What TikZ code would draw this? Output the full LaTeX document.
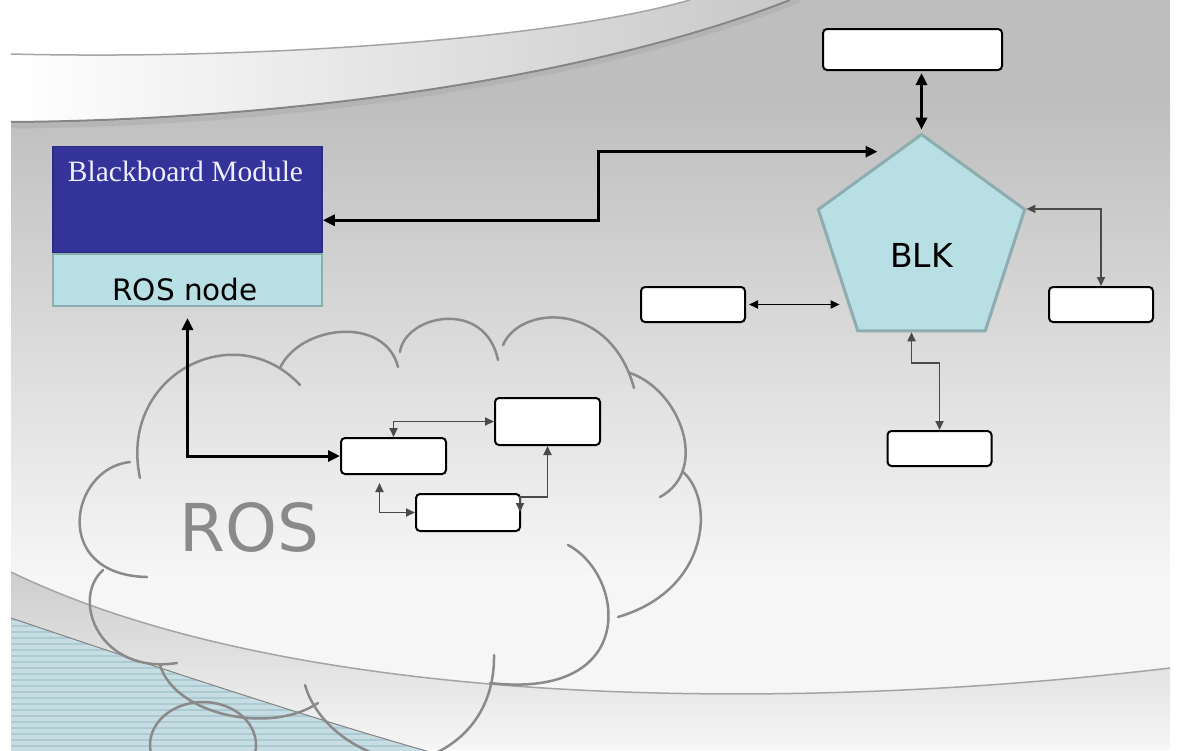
\documentclass[tikz,border=0pt]{standalone}
\usepackage{fontspec}
\newfontfamily\dejavu{DejaVu Sans}
\newfontfamily\timesfont{Liberation Serif}
\usetikzlibrary{shapes.geometric,arrows.meta,calc}

\definecolor{bbblue}{HTML}{333399}
\definecolor{bbedge}{HTML}{2B2B80}
\definecolor{bbtext}{HTML}{EEEEFF}
\definecolor{rosteal}{HTML}{B8DFE3}
\definecolor{rosedge}{HTML}{8DADB0}
\definecolor{cloudgray}{HTML}{8A8A8A}
\definecolor{wiregray}{HTML}{4A4A4A}
\definecolor{bgtop}{HTML}{BEBEBE}
\definecolor{bgbottom}{HTML}{F6F6F6}
\definecolor{bandgray}{HTML}{CDCDCD}
\definecolor{edgegray}{HTML}{A4A4A4}
\definecolor{stripeblue}{HTML}{C6DDE3}
\definecolor{stripeline}{HTML}{ADC9D1}

\begin{document}
\begin{tikzpicture}[x=1pt, y=-1pt,
  whitebox/.style={draw=black, line width=2pt, fill=white, rounded corners=4pt,
    inner sep=0pt, minimum width=104pt, minimum height=35pt},
  bbbox/.style={draw=bbedge, line width=1.5pt, fill=bbblue, inner sep=0pt,
    minimum width=269pt, minimum height=106pt},
  rosbox/.style={draw=rosedge, line width=2pt, fill=rosteal, inner sep=0pt,
    minimum width=269pt, minimum height=52pt},
  blkshape/.style={regular polygon, regular polygon sides=5, minimum size=217pt,
    inner sep=0pt, draw=rosedge, line width=3pt, fill=rosteal,
    font=\dejavu\fontsize{33}{40}\selectfont, text height=48pt, text depth=0pt},
  bigarrow/.style={arrows={Triangle[length=12pt,width=11pt]-Triangle[length=12pt,width=11pt]},
    line width=3pt, draw=black},
  thinarrow/.style={arrows={Triangle[length=9pt,width=8pt]-Triangle[length=9pt,width=8pt]},
    line width=1.8pt, draw=wiregray},
  cloudline/.style={draw=cloudgray, line width=2.5pt, line cap=round},
]
  \useasboundingbox (0,0) rectangle (1182,750);
  \clip (0,0) rectangle (1182,750);

  % -- Slide background --
  \fill[white] (0,0) rectangle (1182,750);
  \fill[bgtop] (11,0) rectangle (1170,100);
  \shade[top color=bgtop, bottom color=bgbottom] (11,99) rectangle (1170,576);
  \fill[bgbottom] (11,575) rectangle (1170,750);

  % -- Top swoosh --
  \fill[white] (11,0) -- (11,54) .. controls (250,60) and (550,40) .. (690,0) -- cycle;
  \shade[left color=white, right color=bgtop!85!white]
    (11,54) .. controls (250,60) and (550,40) .. (690,0) -- (790,0)
    .. controls (600,75) and (300,120) .. (11,122) -- cycle;
  \draw[edgegray, line width=1.5pt] (11,54) .. controls (250,60) and (550,40) .. (690,0);
  \draw[bgtop!70!black, line width=2pt] (11,122) .. controls (300,120) and (600,75) .. (790,0);
  \draw[bgtop!90!black, line width=5pt, opacity=0.5] (11,126) .. controls (300,124) and (600,79) .. (800,0);

  % -- Bottom swoosh --
  \shade[top color=bandgray, bottom color=bgbottom]
    (11,572) .. controls (300,712) and (800,712) .. (1170,668) -- (1170,750) -- (11,750) -- cycle;
  \draw[edgegray, line width=1.5pt] (11,572) .. controls (300,712) and (800,712) .. (1170,668);
  \begin{scope}
    \clip (11,618) .. controls (150,665) and (300,715) .. (430,752) -- (11,752) -- cycle;
    \fill[stripeblue] (11,610) rectangle (440,752);
    \foreach \sy in {614,620,...,750} {
      \draw[stripeline, line width=2pt] (11,\sy) -- (440,\sy);
    }
  \end{scope}
  \draw[edgegray!80!black, line width=1pt] (11,618) .. controls (150,665) and (300,715) .. (430,752);

  % -- ROS cloud --
  \draw[cloudline] (140,478) .. controls (118,375) and (235,315) .. (300,385);
  \draw[cloudline] (280,368) .. controls (300,325) and (385,315) .. (398,367);
  \draw[cloudline] (400,352) .. controls (405,315) and (485,298) .. (498,360);
  \draw[cloudline] (503,345) .. controls (520,305) and (610,300) .. (634,388);
  \draw[cloudline] (630,373) .. controls (680,390) and (710,470) .. (660,497);
  \draw[cloudline] (683,472) .. controls (715,500) and (710,590) .. (618,617);
  \draw[cloudline] (568,545) .. controls (625,575) and (640,700) .. (490,683);
  \draw[cloudline] (494,655) .. controls (495,720) and (450,760) .. (390,765);
  \draw[cloudline] (305,685) .. controls (315,720) and (350,750) .. (395,760);
  \draw[cloudline] (160,665) .. controls (175,715) and (270,735) .. (318,703);
  \draw[cloudline] (103,570) .. controls (70,600) and (100,675) .. (177,663);
  \draw[cloudline] (130,462) .. controls (70,468) and (50,575) .. (147,577);
  \draw[cloudline] (203,745) ellipse (53 and 43);
  \node[font=\dejavu\fontsize{66}{70}\selectfont, text=cloudgray, anchor=base]
    (roslabel) at (249.5,551) {ROS};

  % -- Blackboard module --
  \node[bbbox] (bbm) at (187.5,199.5) {};
  \node[rosbox] (rosnode) at (187.5,280) {};
  \node[font=\timesfont\fontsize{29.5}{34}\selectfont, text=bbtext, anchor=base]
    (bbmtitle) at (185.5,181) {Blackboard Module};
  \node[font=\dejavu\fontsize{29.5}{34}\selectfont, anchor=base]
    (rosnodetext) at (185,300) {ROS node};

  % -- BLK and its boxes --
  \node[blkshape] (blk) at (921.5,243) {BLK};
  \node[whitebox, minimum width=179pt, minimum height=41pt] (topbox) at (912.5,49.5) {};
  \node[whitebox] (leftbox) at (693,304.5) {};
  \node[whitebox] (rightbox) at (1101,304.5) {};
  \node[whitebox] (bottombox) at (939.5,448.5) {};

  % -- ROS boxes --
  \node[whitebox, minimum width=105pt, minimum height=36pt] (ros1) at (393.5,456) {};
  \node[whitebox, minimum width=105pt, minimum height=47pt] (ros2) at (547.5,421.5) {};
  \node[whitebox, minimum width=104pt, minimum height=37pt] (ros3) at (468,512.5) {};

  % -- Connectors around BLK --
  \coordinate (blkin) at ($(blk.corner 1)+(-44,19)$);
  \draw[bigarrow, shorten <=2pt, shorten >=3pt] (topbox.south -| blk.corner 1) -- (blk.corner 1);
  \draw[bigarrow] ($(bbm.south east)+(0,-33)$) -- ++(276,0) |- (blkin);
  \draw[thinarrow, draw=black, shorten <=3pt, shorten >=17pt] (leftbox.east) -- (leftbox.east -| blk.corner 3);
  \draw[thinarrow] (blk.corner 5) -| (rightbox.north);
  \draw[thinarrow] ($(blk.side 3)+(-10,0)$) |- ($(bottombox.north)+(0,-67)$) -- (bottombox.north);

  % -- Connectors in ROS --
  \draw[bigarrow, shorten <=11pt] (rosnode.south) |- (ros1.west);
  \draw[thinarrow] (ros1.north) |- (ros2.west);
  \draw[thinarrow, shorten <=8pt] ($(ros1.south)+(-14,0)$) |- (ros3.west);
  \draw[thinarrow] ($(ros3.north east)+(-1,19)$) -- ($(ros3.north east)+(-1,4)$) -| (ros2.south);

\end{tikzpicture}
\end{document}
